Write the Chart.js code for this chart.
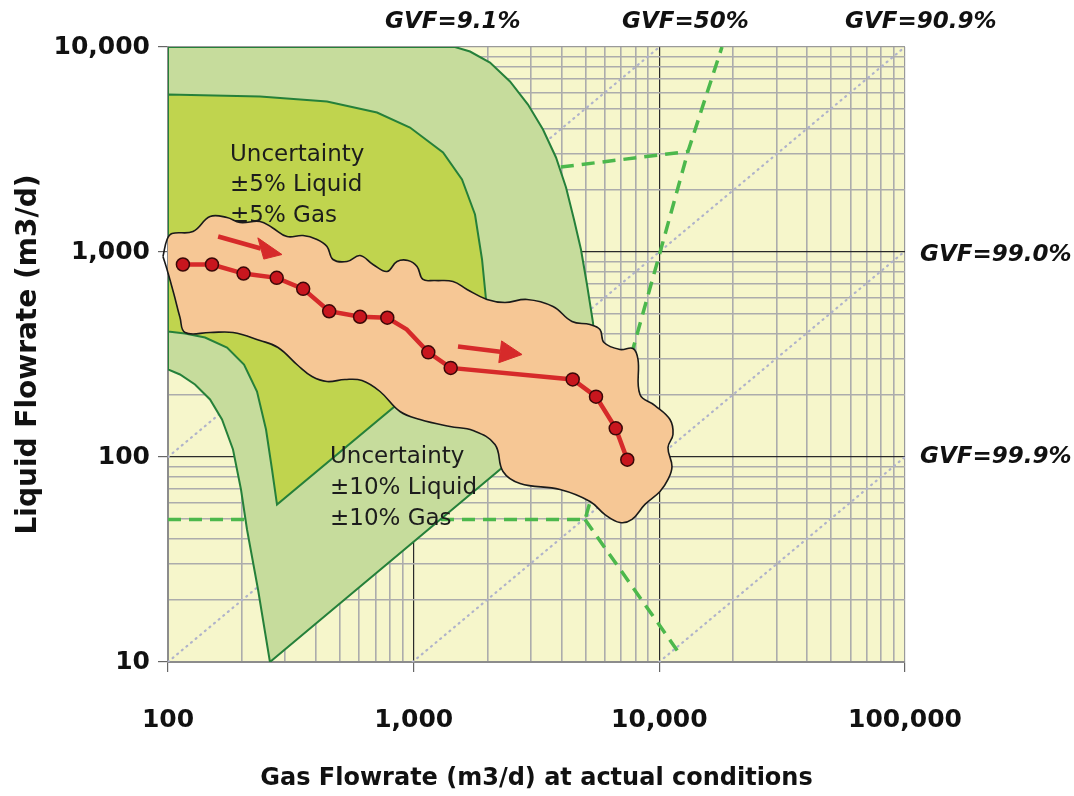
<!DOCTYPE html>
<html>
<head>
<meta charset="utf-8">
<script src="https://cdn.jsdelivr.net/npm/chart.js@4.4.1/dist/chart.umd.min.js"></script>
<style>
  html, body { margin: 0; padding: 0; background: #fff; }
</style>
</head>
<body>
<canvas id="chart" width="1074" height="796"></canvas>
<script>
// well test points (gas m3/d, liquid m3/d); the 0 marker is a bend in the line without a dot
const gasRate = [115, 151, 203, 277, 355, 453, 605, 781, 937, 1147, 1415, 4440, 5524, 6644, 7406];
const liquidRate = [869, 869, 785, 748, 661, 514, 483, 478, 419, 324, 272, 239, 197, 138, 97];
const markerShown = [1, 1, 1, 1, 1, 1, 1, 1, 0, 1, 1, 1, 1, 1, 1];

// orange operating envelope
const blobGas = [95.4, 99.1, 103.8, 126.4, 148.3, 173.9, 196.4, 236.9, 265.1, 305.1, 354.4, 404.2, 443.8, 469.5,
  535.5, 604.8, 683.1, 778.9, 855.4, 948.3, 1032, 1091, 1221, 1446, 1649, 1988, 2353, 2893, 3692, 4410, 5222,
  5734, 5953, 6917, 7811, 8187, 8342, 9603, 11050, 11364, 10846, 11258, 10846, 10062, 8741, 7740, 6917, 6008,
  5222, 3942, 2710, 2310, 2143, 1744, 1406, 1061, 879.7, 729.6, 616.3, 525.3, 443.8, 385.7, 338.2, 280.4,
  236.9, 183.9, 148.3, 117.3, 111.9, 105.8, 99.1, 95.4];
const blobLiquid = [950.8, 1151, 1231, 1259, 1490, 1473, 1393, 1408, 1317, 1190, 1203, 1151, 1064, 919.2,
  898.8, 961.5, 869, 803.5, 898.8, 909, 849.7, 734.4, 726.2, 718.1, 656.3, 586.7, 567.3, 586.7, 542.3, 458.1,
  442.9, 418.8, 361.9, 334.5, 338.3, 299, 201.8, 178.3, 152.4, 128.8, 111.3, 89.9, 77.7, 67.9, 58.7, 49.6,
  47.9, 52.4, 60.7, 69.4, 74.3, 85, 115.1, 134.6, 140.8, 152.4, 166.7, 208.7, 236.1, 238.8, 233.5, 247,
  279.5, 342.1, 370.1, 404.8, 404.8, 404.8, 479.3, 620.5, 821.7, 950.8];

// uncertainty regions
const outerGas = [100, 1473, 1696, 2045, 2467, 2920, 3361, 3797, 4171, 4494, 4798, 5076, 5370, 5626, 260,
  232.5, 209.7, 198.2, 183.9, 165.9, 148.3, 128.8, 111.9, 100, 100];
const outerLiquid = [10000, 10000, 9507, 8402, 6788, 5241, 3959, 2891, 2063, 1440, 1028, 694, 453, 218.3, 10,
  22.58, 44.3, 69.4, 108.8, 152.4, 190.8, 225.8, 252.7, 267.3, 10000];
const innerGas = [100, 236.9, 443.8, 709.2, 966.2, 1317, 1573, 1777, 1898, 1970, 2007, 277.8, 265.1, 250.6,
  230.3, 203.9, 173.9, 141.5, 117.3, 100, 100];
const innerLiquid = [5864, 5735, 5422, 4791, 4049, 3058, 2258, 1524, 919.2, 586.7, 423.5, 58.6, 86.9, 136.2,
  208.7, 282.6, 342.1, 382.7, 400.3, 409.5, 5864];

// green dashed limits
const dashMainGas = [100, 4984, 10063, 13080, 17990];
const dashMainLiquid = [49.5, 49.5, 994, 3091, 10000];
const dashDropGas = [4984, 12134];
const dashDropLiquid = [49.5, 10.9];
const dashTopGas = [3268, 13080];
const dashTopLiquid = [2526, 3091];

// flow direction arrows
const arrowShaftGas = [[160, 238.6], [1515, 2250]];
const arrowShaftLiquid = [[1190, 1040], [346, 326]];
const arrowHeadGas = [[232.1, 291, 245.5, 232.1], [2280, 2761, 2221, 2280]];
const arrowHeadLiquid = [[1172, 972, 923.5, 1172], [368.4, 316.2, 288.4, 368.4]];

// gas volume fraction reference lines (%)
const gvfValues = [9.1, 50, 90.9, 99.0, 99.9];
const gvfLabels = ['GVF=9.1%', 'GVF=50%', 'GVF=90.9%', 'GVF=99.0%', 'GVF=99.9%'];

const xTicks = [100, 1000, 10000, 100000];
const xTickLabels = ['100', '1,000', '10,000', '100,000'];
const yTicks = [10, 100, 1000, 10000];
const yTickLabels = ['10', '100', '1,000', '10,000'];

const note5 = ['Uncertainty', '\u00b15% Liquid', '\u00b15% Gas'];
const note10 = ['Uncertainty', '\u00b110% Liquid', '\u00b110% Gas'];

const pts = (xs, ys) => xs.map((x, i) => ({ x: x, y: ys[i] }));

// decades plus 2..9 in between, for the log grid
function logGrid(majors) {
  const out = [];
  for (let i = 0; i < majors.length - 1; i++) {
    for (let m = 1; m <= 9; m++) out.push(m * majors[i]);
  }
  out.push(majors[majors.length - 1]);
  return out;
}

function isDecade(v) {
  const l = Math.log10(v);
  return Math.abs(l - Math.round(l)) < 1e-9;
}

function gridColor(scale) {
  return (c) => {
    const v = c.tick.value;
    if (v === scale[0] || v === scale[scale.length - 1]) return '#9a9a9a';
    return isDecade(v) ? '#2a2a2a' : '#acacac';
  };
}

const gvfDatasets = gvfValues.map((g) => {
  const ratio = (100 - g) / g;
  const g0 = Math.max(100, 10 / ratio);
  const g1 = Math.min(100000, 10000 / ratio);
  return {
    label: 'GVF ' + g,
    data: [{ x: g0, y: g0 * ratio }, { x: g1, y: g1 * ratio }],
    borderColor: '#b0b3ca',
    borderWidth: 2.2,
    borderDash: [1, 5],
    borderCapStyle: 'round',
    pointRadius: 0,
    order: 7,
  };
});

const dashStyle = {
  borderColor: '#4cb84c',
  borderWidth: 3.5,
  borderDash: [13, 8],
  pointRadius: 0,
  order: 6,
};

const arrowDatasets = [];
for (let i = 0; i < arrowShaftGas.length; i++) {
  arrowDatasets.push({
    label: 'arrow shaft ' + i,
    data: pts(arrowShaftGas[i], arrowShaftLiquid[i]),
    borderColor: '#d62a2a',
    borderWidth: 4.5,
    pointRadius: 0,
    order: 1,
  });
  arrowDatasets.push({
    label: 'arrow head ' + i,
    data: pts(arrowHeadGas[i], arrowHeadLiquid[i]),
    borderColor: '#d62a2a',
    backgroundColor: '#d62a2a',
    borderWidth: 1,
    fill: 'shape',
    pointRadius: 0,
    order: 1,
  });
}

const plotDecor = {
  id: 'plotDecor',
  beforeDraw(chart) {
    const { ctx, chartArea: a } = chart;
    ctx.save();
    ctx.fillStyle = '#f6f6cb';
    ctx.fillRect(a.left, a.top, a.right - a.left, a.bottom - a.top);
    ctx.restore();
  },
  afterDatasetDraw(chart, args) {
    if (chart.data.datasets[args.index].label !== 'Uncertainty 5%') return;
    const ctx = chart.ctx;
    ctx.save();
    ctx.fillStyle = '#1c1c1c';
    ctx.font = '23px "DejaVu Sans"';
    ctx.textBaseline = 'middle';
    note5.forEach((t, i) => ctx.fillText(t, 230, 155 + i * 30.5));
    note10.forEach((t, i) => ctx.fillText(t, 330, 457 + i * 31));
    ctx.restore();
  },
  afterDraw(chart) {
    const ctx = chart.ctx;
    const pos = [[385, 22], [622, 22], [845, 22], [920, 255], [920, 457]];
    ctx.save();
    ctx.fillStyle = '#111';
    ctx.font = 'italic bold 23px "DejaVu Sans"';
    ctx.textBaseline = 'middle';
    gvfLabels.forEach((t, i) => ctx.fillText(t, pos[i][0], pos[i][1]));
    ctx.restore();
  },
};

new Chart(document.getElementById('chart'), {
  type: 'line',
  data: {
    datasets: [
      ...arrowDatasets,
      {
        label: 'Well test',
        data: pts(gasRate, liquidRate),
        borderColor: '#d62a2a',
        borderWidth: 4.5,
        pointRadius: markerShown.map((m) => (m ? 6.5 : 0)),
        pointBackgroundColor: '#c8161e',
        pointBorderColor: '#3a0808',
        pointBorderWidth: 1.5,
        order: 2,
      },
      {
        label: 'Envelope',
        data: pts(blobGas, blobLiquid),
        borderColor: '#1a1a1a',
        borderWidth: 1.6,
        backgroundColor: '#f6c795',
        fill: 'shape',
        tension: 0.4,
        pointRadius: 0,
        clip: false,
        order: 3,
      },
      {
        label: 'Uncertainty 5%',
        data: pts(innerGas, innerLiquid),
        borderColor: '#25803a',
        borderWidth: 2,
        backgroundColor: '#c0d44e',
        fill: 'shape',
        pointRadius: 0,
        order: 4,
      },
      {
        label: 'Uncertainty 10%',
        data: pts(outerGas, outerLiquid),
        borderColor: '#25803a',
        borderWidth: 2,
        backgroundColor: '#c6dc9c',
        fill: 'shape',
        pointRadius: 0,
        order: 5,
      },
      { label: 'limit main', data: pts(dashMainGas, dashMainLiquid), ...dashStyle },
      { label: 'limit drop', data: pts(dashDropGas, dashDropLiquid), ...dashStyle },
      { label: 'limit top', data: pts(dashTopGas, dashTopLiquid), ...dashStyle },
      ...gvfDatasets,
    ],
  },
  options: {
    responsive: false,
    devicePixelRatio: 1,
    animation: false,
    events: [],
    layout: { padding: { left: 0, right: 169, top: 47, bottom: 0 } },
    plugins: { legend: { display: false }, tooltip: { enabled: false } },
    elements: { line: { tension: 0 } },
    scales: {
      x: {
        type: 'logarithmic',
        min: 100,
        max: 100000,
        afterBuildTicks: (s) => { s.ticks = logGrid(xTicks).map((v) => ({ value: v })); },
        afterFit: (s) => { s.height = 134; },
        grid: {
          color: gridColor(xTicks),
          lineWidth: (c) => (isDecade(c.tick.value) ? 1.2 : 1.6),
          tickColor: (c) => (isDecade(c.tick.value) ? '#666' : 'rgba(0,0,0,0)'),
          tickLength: 10,
        },
        border: { color: '#8c8c8c', width: 2 },
        ticks: {
          autoSkip: false,
          maxRotation: 0,
          padding: 33,
          color: '#111',
          font: { family: 'DejaVu Sans', size: 25, weight: 'bold' },
          callback: (v) => { const i = xTicks.indexOf(v); return i >= 0 ? xTickLabels[i] : ''; },
        },
        title: {
          display: true,
          text: 'Gas Flowrate (m3/d) at actual conditions',
          color: '#111',
          font: { family: 'DejaVu Sans', size: 24, weight: 'bold' },
          padding: { top: 0, bottom: 3 },
        },
      },
      y: {
        type: 'logarithmic',
        min: 10,
        max: 10000,
        afterBuildTicks: (s) => { s.ticks = logGrid(yTicks).map((v) => ({ value: v })); },
        afterFit: (s) => { s.width = 168; },
        grid: {
          color: gridColor(yTicks),
          lineWidth: (c) => (isDecade(c.tick.value) ? 1.2 : 1.6),
          tickColor: (c) => (isDecade(c.tick.value) ? '#666' : 'rgba(0,0,0,0)'),
          tickLength: 10,
        },
        border: { color: '#8c8c8c', width: 2 },
        ticks: {
          autoSkip: false,
          padding: 8,
          color: '#111',
          font: { family: 'DejaVu Sans', size: 25, weight: 'bold' },
          callback: (v) => { const i = yTicks.indexOf(v); return i >= 0 ? yTickLabels[i] : ''; },
        },
        title: {
          display: true,
          text: 'Liquid Flowrate (m3/d)',
          color: '#111',
          font: { family: 'DejaVu Sans', size: 28, weight: 'bold' },
          padding: { top: 12, bottom: 0 },
        },
      },
    },
  },
  plugins: [plotDecor],
});
</script>
</body>
</html>
